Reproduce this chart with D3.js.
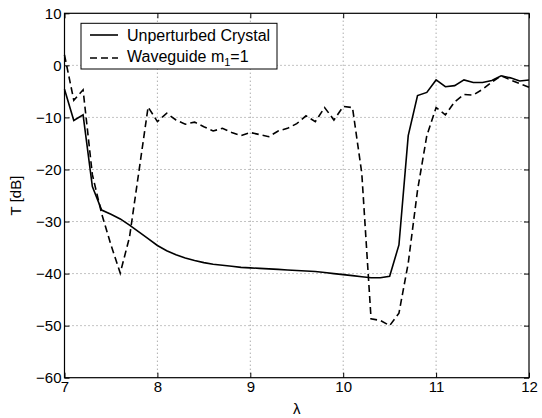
<!DOCTYPE html>
<html>
<head>
<meta charset="utf-8">
<script src="https://cdn.jsdelivr.net/npm/d3@7"></script>
<style>
  body { margin: 0; background: #fff; }
  text { font-family: "Liberation Sans", Arial, Helvetica, sans-serif; }
</style>
</head>
<body>
<svg id="chart" width="542" height="418"></svg>
<script>
// wavelength grid, step 0.1
const lambda = d3.range(51).map((i) => +(7 + i * 0.1).toFixed(1));

// Unperturbed Crystal
const unperturbed = [
  -4.6, -10.6, -9.5, -23.3, -27.8, -28.6, -29.5, -30.7, -32.0, -33.3,
  -34.6, -35.6, -36.4, -37.0, -37.5, -37.9, -38.2, -38.4, -38.6, -38.8,
  -38.9, -39.0, -39.1, -39.2, -39.3, -39.4, -39.5, -39.6, -39.8, -40.0,
  -40.2, -40.4, -40.6, -40.8, -40.8, -40.5, -34.5, -13.5, -5.8, -5.2,
  -2.8, -4.1, -3.9, -2.8, -3.3, -3.3, -2.9, -2.0, -2.4, -3.0, -2.8
];

// Waveguide m1=1
const waveguide = [
  2.0, -6.7, -4.7, -21.0, -28.5, -34.5, -39.9, -33.0, -20.5, -8.0,
  -10.8, -9.2, -10.5, -11.3, -10.9, -11.8, -12.6, -12.1, -12.9, -13.5,
  -12.9, -13.3, -13.7, -12.6, -12.1, -11.2, -9.7, -10.8, -8.1, -10.5,
  -7.9, -8.1, -20.7, -48.7, -49.0, -50.0, -47.6, -38.0, -24.0, -13.5,
  -8.1, -9.5, -7.0, -5.6, -5.7, -4.6, -3.2, -2.0, -2.8, -3.5, -4.2
];

const xTicks = [7, 8, 9, 10, 11, 12];
const yTicks = [-60, -50, -40, -30, -20, -10, 0, 10];

const svg = d3.select("#chart");
const margin = { left: 64.5, right: 13, top: 13.3, bottom: 40.3 };
const width = 542, height = 418;

const x = d3.scaleLinear().domain([7, 12]).range([margin.left, width - margin.right]);
const y = d3.scaleLinear().domain([-60, 10]).range([height - margin.bottom, margin.top]);

const fmt = (d) => (d < 0 ? "\u2212" + Math.abs(d) : "" + d);

// dotted grid
const grid = svg.append("g").attr("stroke", "#888").attr("stroke-width", 1)
  .attr("stroke-dasharray", "1,3");
xTicks.slice(1, -1).forEach((t) => {
  grid.append("line").attr("x1", x(t)).attr("x2", x(t))
    .attr("y1", y(-60)).attr("y2", y(10));
});
yTicks.slice(1, -1).forEach((t) => {
  grid.append("line").attr("x1", x(7)).attr("x2", x(12))
    .attr("y1", y(t)).attr("y2", y(t));
});

// axes with inward ticks
function styleAxis(g) {
  g.selectAll("text").attr("font-size", 15).attr("fill", "#000")
    .style("font-family", '"Liberation Sans", Arial, sans-serif');
  g.selectAll("line").attr("stroke", "#000");
  g.select(".domain").remove();
}
svg.append("g").attr("transform", `translate(0,${y(-60)})`)
  .call(d3.axisBottom(x).tickValues(xTicks).tickFormat(fmt).tickSize(-5).tickPadding(4))
  .call(styleAxis);
svg.append("g").attr("transform", `translate(${x(7)},0)`)
  .call(d3.axisLeft(y).tickValues(yTicks).tickFormat(fmt).tickSize(-5).tickPadding(3))
  .call(styleAxis);
svg.append("g").attr("transform", `translate(0,${y(10)})`)
  .call(d3.axisTop(x).tickValues(xTicks).tickFormat("").tickSize(-5))
  .call(styleAxis);
svg.append("g").attr("transform", `translate(${x(12)},0)`)
  .call(d3.axisRight(y).tickValues(yTicks).tickFormat("").tickSize(-5))
  .call(styleAxis);

// frame
svg.append("rect")
  .attr("x", x(7)).attr("y", y(10))
  .attr("width", x(12) - x(7)).attr("height", y(-60) - y(10))
  .attr("fill", "none").attr("stroke", "#000").attr("stroke-width", 1.2);

// lines
const line = d3.line().x((d) => x(d[0])).y((d) => y(d[1]));
svg.append("path")
  .datum(lambda.map((l, i) => [l, unperturbed[i]]))
  .attr("d", line).attr("fill", "none").attr("stroke", "#000").attr("stroke-width", 1.6);
svg.append("path")
  .datum(lambda.map((l, i) => [l, waveguide[i]]))
  .attr("d", line).attr("fill", "none").attr("stroke", "#000").attr("stroke-width", 1.6)
  .attr("stroke-dasharray", "7,4");

// axis labels
svg.append("text").attr("x", (x(7) + x(12)) / 2).attr("y", 414)
  .attr("text-anchor", "middle").attr("font-size", 15).text("\u03bb");
svg.append("text")
  .attr("transform", `translate(21,${(y(10) + y(-60)) / 2}) rotate(-90)`)
  .attr("text-anchor", "middle").attr("font-size", 15).text("T [dB]");

// legend
const leg = svg.append("g");
leg.append("rect").attr("x", 81).attr("y", 23.3).attr("width", 196).attr("height", 45.7)
  .attr("fill", "#fff").attr("stroke", "#000").attr("stroke-width", 1);
leg.append("line").attr("x1", 90).attr("x2", 118).attr("y1", 35).attr("y2", 35)
  .attr("stroke", "#000").attr("stroke-width", 1.6);
leg.append("line").attr("x1", 90).attr("x2", 118).attr("y1", 58).attr("y2", 58)
  .attr("stroke", "#000").attr("stroke-width", 1.6).attr("stroke-dasharray", "7,4");
leg.append("text").attr("x", 127).attr("y", 40.5).attr("font-size", 16)
  .text("Unperturbed Crystal");
const t2 = leg.append("text").attr("x", 127).attr("y", 61.5).attr("font-size", 16);
t2.append("tspan").text("Waveguide m");
t2.append("tspan").attr("dy", 4).attr("font-size", 11).text("1");
t2.append("tspan").attr("dy", -4).text("=1");
</script>
</body>
</html>
